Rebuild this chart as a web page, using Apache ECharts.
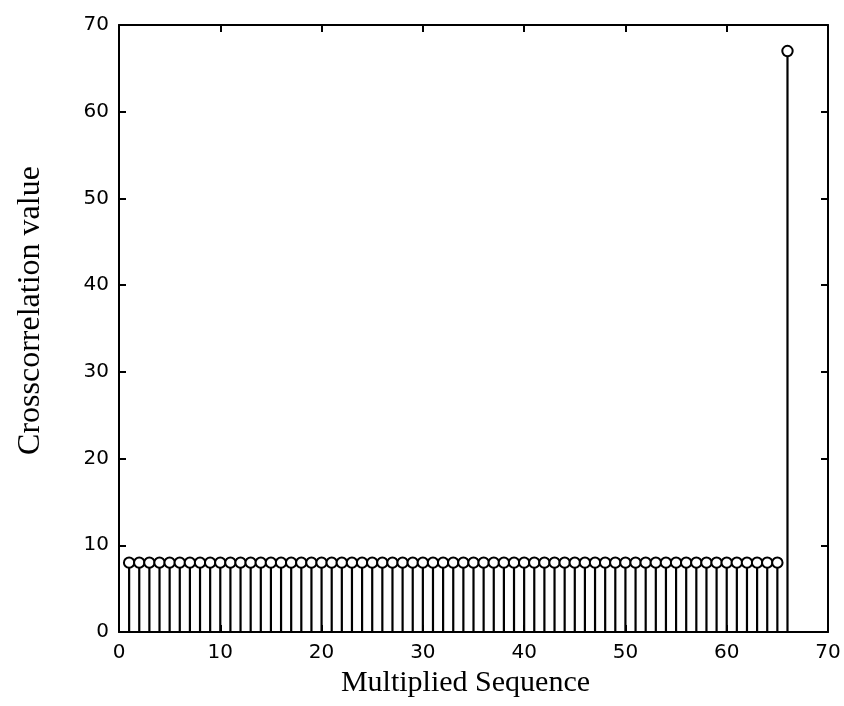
<!DOCTYPE html>
<html>
<head>
<meta charset="utf-8">
<script src="https://cdn.jsdelivr.net/npm/echarts@6/dist/echarts.min.js"></script>
<style>
  html, body { margin: 0; padding: 0; background: #fff; }
  #chart { width: 844px; height: 706px; }
</style>
</head>
<body>
<div id="chart"></div>
<script>
// Sequence index of each stem
const seqIndex = [
  1, 2, 3, 4, 5, 6, 7, 8, 9, 10,
  11, 12, 13, 14, 15, 16, 17, 18, 19, 20,
  21, 22, 23, 24, 25, 26, 27, 28, 29, 30,
  31, 32, 33, 34, 35, 36, 37, 38, 39, 40,
  41, 42, 43, 44, 45, 46, 47, 48, 49, 50,
  51, 52, 53, 54, 55, 56, 57, 58, 59, 60,
  61, 62, 63, 64, 65, 66
];
// Crosscorrelation value at each index
const xcorrValue = [
  8, 8, 8, 8, 8, 8, 8, 8, 8, 8,
  8, 8, 8, 8, 8, 8, 8, 8, 8, 8,
  8, 8, 8, 8, 8, 8, 8, 8, 8, 8,
  8, 8, 8, 8, 8, 8, 8, 8, 8, 8,
  8, 8, 8, 8, 8, 8, 8, 8, 8, 8,
  8, 8, 8, 8, 8, 8, 8, 8, 8, 8,
  8, 8, 8, 8, 8, 67
];
const xTicks = [0, 10, 20, 30, 40, 50, 60, 70];
const yTicks = [0, 10, 20, 30, 40, 50, 60, 70];

const xLabel = 'Multiplied Sequence';
const yLabel = 'Crosscorrelation value';

const stemData = seqIndex.map((x, i) => [x, xcorrValue[i]]);

const chart = echarts.init(document.getElementById('chart'), null, { renderer: 'canvas' });

const tickFont = { fontFamily: 'DejaVu Sans', fontSize: 20, color: '#000' };

function axisBase(ticks) {
  return {
    type: 'value',
    min: ticks[0],
    max: ticks[ticks.length - 1],
    interval: ticks[1] - ticks[0],
    axisLine: { show: true, onZero: false, lineStyle: { color: '#000', width: 2 } },
    axisTick: { show: true, inside: true, length: 7, lineStyle: { color: '#000', width: 2 } },
    splitLine: { show: false },
    minorTick: { show: false }
  };
}

chart.setOption({
  animation: false,
  backgroundColor: '#fff',
  grid: { left: 119, right: 16, top: 25, bottom: 74, containLabel: false },
  xAxis: [
    Object.assign(axisBase(xTicks), {
      position: 'bottom',
      name: xLabel,
      nameLocation: 'middle',
      nameGap: 35,
      nameTextStyle: {
        fontFamily: 'Liberation Serif', fontSize: 30, color: '#000',
        padding: [0, 16, 0, 0]
      },
      axisLabel: Object.assign({ margin: 11 }, tickFont)
    }),
    Object.assign(axisBase(xTicks), {
      position: 'top',
      axisLabel: { show: false }
    })
  ],
  yAxis: [
    Object.assign(axisBase(yTicks), {
      position: 'left',
      name: yLabel,
      nameLocation: 'middle',
      nameGap: 72,
      nameTextStyle: {
        fontFamily: 'Liberation Serif', fontSize: 32, color: '#000',
        padding: [0, 0, 0, 36]
      },
      axisLabel: Object.assign({ margin: 10 }, tickFont)
    }),
    Object.assign(axisBase(yTicks), {
      position: 'right',
      axisLabel: { show: false }
    })
  ],
  series: [{
    type: 'custom',
    xAxisIndex: 0,
    yAxisIndex: 0,
    data: stemData,
    clip: false,
    renderItem: function (params, api) {
      const x = api.value(0);
      const base = api.coord([x, 0]);
      const tip = api.coord([x, api.value(1)]);
      return {
        type: 'group',
        children: [
          {
            type: 'line',
            shape: { x1: base[0], y1: base[1], x2: tip[0], y2: tip[1] },
            style: { stroke: '#000', lineWidth: 2.2 }
          },
          {
            type: 'circle',
            shape: { cx: tip[0], cy: tip[1], r: 5.2 },
            style: { fill: '#fff', stroke: '#000', lineWidth: 2 }
          }
        ]
      };
    }
  }]
});
</script>
</body>
</html>
